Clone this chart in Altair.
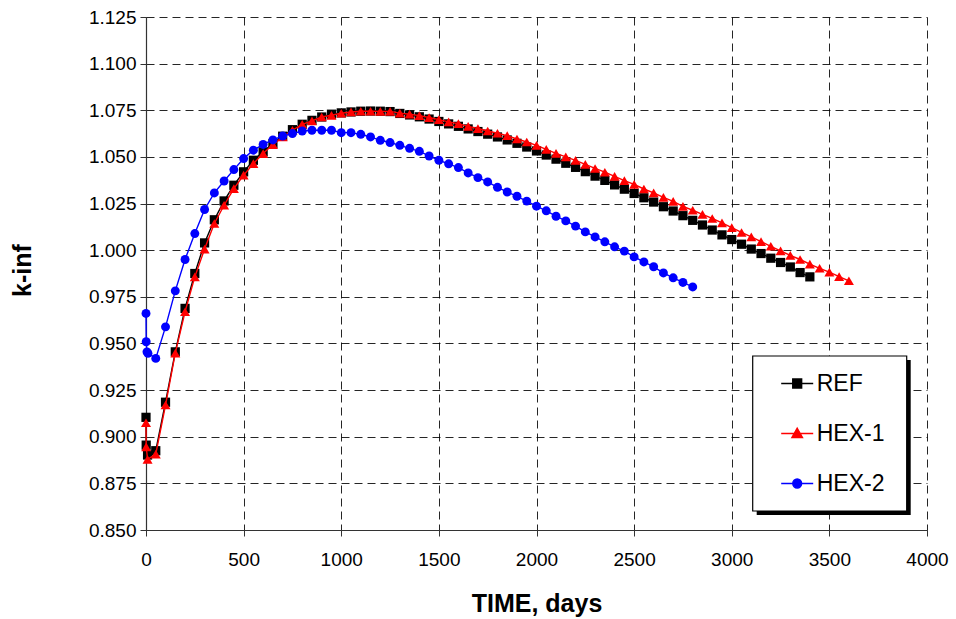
import altair as alt
import pandas as pd

SERIES = ["REF", "HEX-1", "HEX-2"]
COLORS = ["#000000", "#ff0000", "#0000ff"]
SHAPES = ["square", "triangle-up", "circle"]
SIZES = [85, 100, 80]
LEGEND_PATHS = [
    "M-2,0H2M-0.55,-0.55H0.55V0.55H-0.55Z",
    "M-2,0H2M0,-0.65L0.65,0.5H-0.65Z",
    "M-2,0H2M-0.55,0A0.55,0.55,0,1,0,0.55,0A0.55,0.55,0,1,0,-0.55,0Z",
]

X_TICKS = [0, 500, 1000, 1500, 2000, 2500, 3000, 3500, 4000]
Y_TICKS = [0.85, 0.875, 0.9, 0.925, 0.95, 0.975, 1.0, 1.025, 1.05, 1.075, 1.1, 1.125]

START_REF = [0, 1, 8]
START_HEX1 = [0, 1, 8]
START_HEX2 = [0, 1, 5, 10]
STEPS = [50, 100, 150, 200, 250, 300, 350, 400, 450, 500, 550, 600, 650, 700,
         750, 800, 850, 900, 950, 1000, 1050, 1100, 1150, 1200, 1250, 1300,
         1350, 1400, 1450, 1500, 1550, 1600, 1650, 1700, 1750, 1800, 1850,
         1900, 1950, 2000, 2050, 2100, 2150, 2200, 2250, 2300, 2350, 2400,
         2450, 2500, 2550, 2600, 2650, 2700, 2750, 2800, 2850, 2900, 2950,
         3000, 3050, 3100, 3150, 3200, 3250, 3300, 3350, 3400, 3450, 3500,
         3550, 3600]

ref_k = [0.9104, 0.8955, 0.8902,
         0.8925, 0.9185, 0.9455, 0.9688, 0.9875, 1.0039, 1.0163, 1.0264, 1.0348, 1.0420,
         1.0482, 1.0527, 1.0571, 1.0611, 1.0646, 1.0675, 1.0696, 1.0714, 1.0729, 1.0736,
         1.0741, 1.0745, 1.0746, 1.0745, 1.0743, 1.0733, 1.0725, 1.0715, 1.0703, 1.0690,
         1.0677, 1.0664, 1.0650, 1.0636, 1.0622, 1.0607, 1.0591, 1.0573, 1.0553, 1.0532,
         1.0510, 1.0488, 1.0466, 1.0444, 1.0421, 1.0397, 1.0374, 1.0350, 1.0327, 1.0304,
         1.0281, 1.0258, 1.0233, 1.0210, 1.0185, 1.0160, 1.0135, 1.0108, 1.0082, 1.0057,
         1.0032, 1.0006, 0.9982, 0.9957, 0.9934, 0.9910, 0.9880, 0.9857]

hex1_k = [0.9075, 0.8946, 0.8879,
          0.8907, 0.9170, 0.9448, 0.9670, 0.9857, 1.0006, 1.0143, 1.0241, 1.0330, 1.0402,
          1.0464, 1.0518, 1.0566, 1.0607, 1.0643, 1.0675, 1.0693, 1.0714, 1.0723, 1.0734,
          1.0741, 1.0745, 1.0745, 1.0744, 1.0744, 1.0735, 1.0729, 1.0721, 1.0711, 1.0700,
          1.0688, 1.0678, 1.0664, 1.0652, 1.0639, 1.0627, 1.0614, 1.0596, 1.0580, 1.0562,
          1.0540, 1.0519, 1.0500, 1.0481, 1.0460, 1.0438, 1.0418, 1.0396, 1.0373, 1.0353,
          1.0328, 1.0307, 1.0283, 1.0262, 1.0235, 1.0214, 1.0192, 1.0170, 1.0146, 1.0121,
          1.0095, 1.0071, 1.0046, 1.0021, 0.9996, 0.9972, 0.9950, 0.9925, 0.9903, 0.9882,
          0.9858, 0.9836]

hex2_k = [0.9661, 0.9509, 0.9455, 0.9447,
          0.9420, 0.9589, 0.9782, 0.9950, 1.0089, 1.0218, 1.0307, 1.0371, 1.0432, 1.0491,
          1.0536, 1.0567, 1.0591, 1.0612, 1.0625, 1.0639, 1.0643, 1.0643, 1.0643, 1.0630,
          1.0630, 1.0621, 1.0607, 1.0589, 1.0577, 1.0562, 1.0546, 1.0530, 1.0505, 1.0482,
          1.0463, 1.0443, 1.0414, 1.0389, 1.0366, 1.0337, 1.0312, 1.0289, 1.0263, 1.0236,
          1.0211, 1.0182, 1.0157, 1.0129, 1.0098, 1.0071, 1.0045, 1.0018, 0.9995, 0.9964,
          0.9937, 0.9911, 0.9878, 0.9852, 0.9827, 0.9803]

ref_t = START_REF + STEPS[:len(ref_k) - len(START_REF)]
hex1_t = START_HEX1 + STEPS[:len(hex1_k) - len(START_HEX1)]
hex2_t = START_HEX2 + STEPS[:len(hex2_k) - len(START_HEX2)]

rows = []
for name, ts, ks in [("REF", ref_t, ref_k), ("HEX-1", hex1_t, hex1_k), ("HEX-2", hex2_t, hex2_k)]:
    assert len(ts) == len(ks), name
    for t, k in zip(ts, ks):
        rows.append({"series": name, "t": t, "k": k})
df = pd.DataFrame(rows)

FONT = "Liberation Sans"

x_enc = alt.X(
    "t:Q",
    scale=alt.Scale(domain=[0, 4000], nice=False, zero=False),
    axis=alt.Axis(values=X_TICKS, title="TIME, days", format="d",
                  labelPadding=14, labelFlush=False, labelOverlap=False,
                  titleY=73, titleBaseline="middle"),
)
y_enc = alt.Y(
    "k:Q",
    scale=alt.Scale(domain=[0.85, 1.125], nice=False, zero=False),
    axis=alt.Axis(values=Y_TICKS, title="k-inf", format=".3f",
                  labelPadding=4, labelFlush=False, labelOverlap=False,
                  titleX=-124, titleY=253,
                  titleAngle=270, titleBaseline="middle", titleAlign="center"),
)

base = alt.Chart(df)

# legend frame: drop shadow and white box (decoration, pixel placed)
frame_data = alt.Data(values=[{"a": 1}])
shadow = alt.Chart(frame_data).mark_rect(color="black").encode(
    x=alt.value(610.7), x2=alt.value(764.7), y=alt.value(343), y2=alt.value(498)
)
box = alt.Chart(frame_data).mark_rect(fill="white", stroke="black", strokeWidth=1.2).encode(
    x=alt.value(606.7), x2=alt.value(760.7), y=alt.value(339), y2=alt.value(494)
)

layers = [shadow, box]
for name, color, shape, size in zip(SERIES, COLORS, SHAPES, SIZES):
    sub = base.transform_filter(alt.datum.series == name)
    layers.append(sub.mark_line(color=color, strokeWidth=1.4).encode(x=x_enc, y=y_enc))
    layers.append(
        sub.mark_point(shape=shape, filled=True, color=color, size=size, opacity=1).encode(
            x=x_enc, y=y_enc
        )
    )

leg = alt.Legend(
    title=None,
    orient="none",
    legendX=606.7,
    legendY=339,
    padding=16,
    symbolSize=256,
    symbolStrokeWidth=1.5,
    symbolOffset=17,
    labelOffset=8,
    rowPadding=26,
    labelFont=FONT,
    labelFontSize=23,
    labelColor="black",
)

legend_layer = base.transform_filter("false").mark_point(filled=True, opacity=1).encode(
    x=x_enc,
    y=y_enc,
    shape=alt.Shape("series:N", scale=alt.Scale(domain=SERIES, range=LEGEND_PATHS), legend=leg),
    fill=alt.Fill("series:N", scale=alt.Scale(domain=SERIES, range=COLORS), legend=leg),
    stroke=alt.Stroke("series:N", scale=alt.Scale(domain=SERIES, range=COLORS), legend=leg),
)
layers.append(legend_layer)

chart = alt.layer(*layers).properties(
    width=781,
    height=513,
    padding={"left": 146, "top": 17, "right": 29, "bottom": 89},
    autosize=alt.AutoSizeParams(type="none"),
    background="white",
).configure_view(stroke=None).configure_axis(
    labelFont=FONT,
    labelFontSize=19,
    labelColor="black",
    titleFont=FONT,
    titleFontSize=25,
    titleFontWeight="bold",
    titleColor="black",
    grid=True,
    gridColor="black",
    gridDash=[8, 5],
    gridWidth=1,
    gridOpacity=0.85,
    domainColor="#333333",
    domainWidth=1.2,
    tickColor="#333333",
    tickSize=6,
)

chart.save("out.html", embed_options={"renderer": "svg", "actions": False})
